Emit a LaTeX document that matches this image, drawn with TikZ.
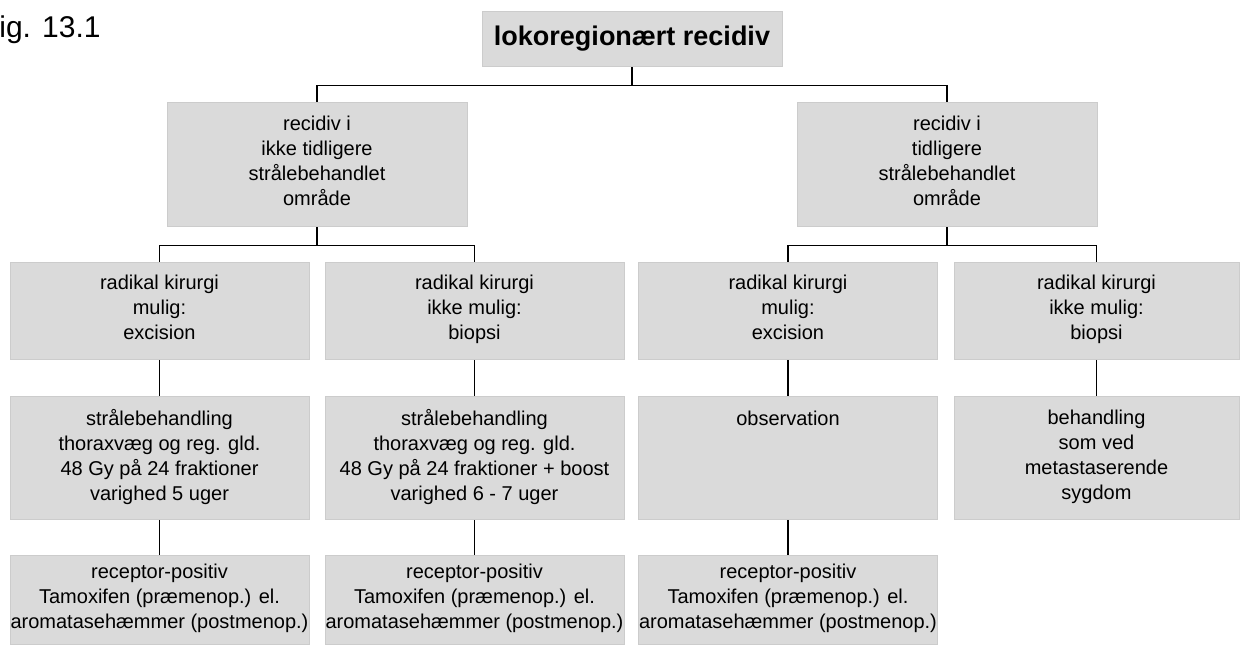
\documentclass[tikz,border=0pt]{standalone}
\usepackage{fontspec}
\setmainfont{Liberation Sans}
\usetikzlibrary{positioning}

\definecolor{boxfill}{RGB}{218,218,218}
\definecolor{boxline}{RGB}{204,204,204}

\begin{document}
\begin{tikzpicture}[x=0.5pt,y=-0.5pt,
		box/.style={rectangle, fill=boxfill, draw=boxline, line width=0.5pt, inner sep=0pt,
			align=center, font=\fontsize{10}{12.5}\selectfont,
			execute at begin node=\strut, execute at end node=\strut},
		head/.style={box, minimum width=150pt, minimum height=27.5pt,
			font=\fontsize{13.5}{16}\selectfont\bfseries},
		split/.style={box, minimum width=150pt, minimum height=62pt},
		choice/.style={box, minimum width=149.5pt, minimum height=48.5pt},
		treat/.style={box, minimum width=149.5pt, minimum height=61.5pt},
		drug/.style={box, minimum width=149.5pt, minimum height=44.5pt},
		link/.style={draw=black, line width=0.75pt}]

		\useasboundingbox (0,0) rectangle (1244,646);

		\node[anchor=base west, inner sep=0pt, font=\fontsize{15}{18}\selectfont] (fig) at (-1,38) {ig. 13.1};

		\node[head] (T) at (632,39.5) {lokoregionært recidiv};

		\node[split] (R1) at (317,165) {recidiv i\\ikke tidligere\\strålebehandlet\\område};
		\node[split] (R2) at (947,165) {recidiv i\\tidligere\\strålebehandlet\\område};

		\node[choice] (A3) at (159.5,311.5) {radikal kirurgi\\mulig:\\excision};
		\node[choice] (B3) [right of=A3, node distance=157.5pt] {radikal kirurgi\\ikke mulig:\\biopsi};
		\node[choice] (C3) [right of=B3, node distance=156.75pt] {radikal kirurgi\\mulig:\\excision};
		\node[choice, minimum width=142.5pt] (D3) [right of=C3, node distance=154.25pt] {radikal kirurgi\\ikke mulig:\\biopsi};

		\node[treat] (A4) [below of=A3, node distance=73.5pt] {strålebehandling\\thoraxvæg og reg. gld.\\48 Gy på 24 fraktioner\\varighed 5 uger};
		\node[treat] (B4) [below of=B3, node distance=73.5pt] {strålebehandling\\thoraxvæg og reg. gld.\\48 Gy på 24 fraktioner + boost\\varighed 6 - 7 uger};
		\node[treat] (C4) [below of=C3, node distance=73.5pt] {};
		\node[anchor=base, inner sep=0pt, font=\fontsize{10}{12.5}\selectfont] (C4t) at ([yshift=16.25pt]C4.center) {observation};
		\node[treat, minimum width=142.5pt] (D4) [below of=D3, node distance=73.5pt] {behandling\\som ved\\metastaserende\\sygdom};

		\node[drug] (A5) [below of=A4, node distance=71pt] {receptor-positiv\\Tamoxifen (præmenop.) el.\\aromatasehæmmer (postmenop.)};
		\node[drug] (B5) [below of=B4, node distance=71pt] {receptor-positiv\\Tamoxifen (præmenop.) el.\\aromatasehæmmer (postmenop.)};
		\node[drug] (C5) [below of=C4, node distance=71pt] {receptor-positiv\\Tamoxifen (præmenop.) el.\\aromatasehæmmer (postmenop.)};

		% tree connectors
		\draw[link] (T.south) -- ++(0,18) coordinate (j0) -| (R1.north);
		\draw[link] (j0) -| (R2.north);
		\draw[link] (R1.south) -- ++(0,18) coordinate (j1) -| (A3.north);
		\draw[link] (j1) -| (B3.north);
		\draw[link] (R2.south) -- ++(0,18) coordinate (j2) -| (C3.north);
		\draw[link] (j2) -| (D3.north);

		\draw[link] (A3) -- (A4);
		\draw[link] (B3) -- (B4);
		\draw[link] (C3) -- (C4);
		\draw[link] (D3) -- (D4);
		\draw[link] (A4) -- (A5);
		\draw[link] (B4) -- (B5);
		\draw[link] (C4) -- (C5);

	\end{tikzpicture}
\end{document}
